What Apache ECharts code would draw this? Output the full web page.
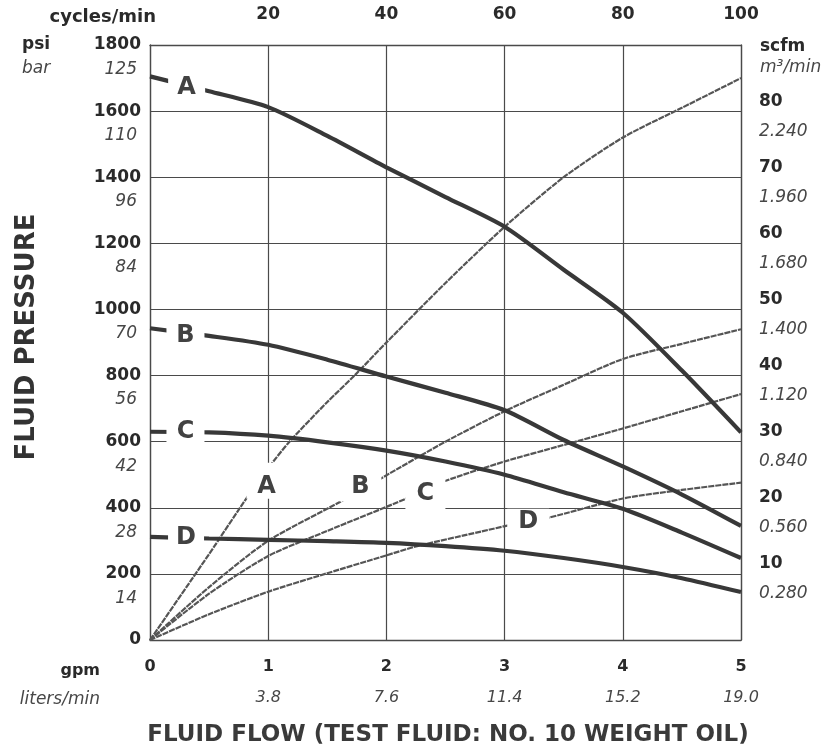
<!DOCTYPE html>
<html><head><meta charset="utf-8">
<script src="https://cdn.jsdelivr.net/npm/echarts@6/dist/echarts.min.js"></script>
<style>html,body{margin:0;padding:0;background:#fff}#c{width:832px;height:749px}</style>
</head><body><div id="c"></div>
<script>
// ---- tick labels ----
const gpmTicks = [0, 1, 2, 3, 4, 5];
const litersTicks = ['', '3.8', '7.6', '11.4', '15.2', '19.0'];
const cycleTicks = [0, 20, 40, 60, 80, 100];
const psiTicks = [0, 200, 400, 600, 800, 1000, 1200, 1400, 1600, 1800];
const barTicks = ['', '14', '28', '42', '56', '70', '84', '96', '110', '125'];
const scfmTicks = [10, 20, 30, 40, 50, 60, 70, 80];
const m3Ticks = ['0.280', '0.560', '0.840', '1.120', '1.400', '1.680', '1.960', '2.240'];

// ---- fluid pressure curves (psi vs gpm) ----
const flowGpm = [0, 0.5, 1, 1.5, 2, 2.5, 3, 3.5, 4, 4.5, 5];
const pressureA = [1705, 1660, 1612, 1525, 1430, 1340, 1250, 1120, 990, 815, 628];
const pressureB = [943, 920, 893, 848, 797, 748, 695, 605, 525, 440, 345];
const pressureC = [630, 628, 618, 598, 573, 540, 500, 447, 397, 325, 248];
const pressureD = [312, 307, 303, 299, 294, 284, 270, 248, 221, 187, 145];

// ---- air consumption curves (scfm vs gpm) ----
const airAGpm = [0, 0.5, 0.83, 1.0, 1.18, 1.5, 1.73, 2, 2.5, 3, 3.5, 4, 4.5, 5];
const airA    = [0, 13, 21.8, 26, 30, 36, 40, 45, 54, 62.5, 70, 76, 80.5, 85];
const airBGpm = [0, 0.5, 1, 1.62, 1.95, 2.5, 3, 3.5, 4, 4.5, 5];
const airB    = [0, 8, 15, 21, 24.4, 30, 34.6, 38.6, 42.5, 44.8, 47];
const airCGpm = [0, 0.5, 1, 1.5, 2.17, 2.49, 3, 3.5, 4, 4.5, 5];
const airC    = [0, 7, 12.7, 16.5, 21.4, 24, 27, 29.5, 32, 34.6, 37.2];
const airDGpm = [0, 0.5, 1, 1.5, 2, 2.24, 2.8, 3.05, 3.37, 4, 4.5, 5];
const airD    = [0, 3.9, 7.3, 10.1, 12.8, 14.1, 16.4, 17.4, 18.5, 21.4, 22.7, 23.8];

const curveNames = ['A', 'B', 'C', 'D'];

// ---- layout (label boxes that interrupt the curves, in data coords gpm/psi) ----
const LABEL_BOXES = [
  { t: 'A', at: [0.31, 1670], size: [37, 26], off: [0, 0] },
  { t: 'B', at: [0.30, 919], size: [38, 26], off: [0, 0] },
  { t: 'C', at: [0.30, 630], size: [38, 26], off: [0, 0] },
  { t: 'D', at: [0.305, 309], size: [36, 26], off: [0, 0] },
  { t: 'A', at: [0.96, 482], size: [34, 36], off: [3, 6] },
  { t: 'B', at: [1.78, 464], size: [42, 30], off: [0, 0] },
  { t: 'C', at: [2.33, 441], size: [40, 31], off: [0, 0] },
  { t: 'D', at: [3.2, 358], size: [42, 26], off: [0, 0] }
];

const FF = 'DejaVu Sans';
const DARK = '#2a2a2a';
const ITAL = '#474747';
const GRID = '#4a4a4a';

const zip = (xs, ys) => xs.map((x, i) => [x, ys[i]]);

const pressureSeries = [pressureA, pressureB, pressureC, pressureD].map((d, i) => ({
  name: 'P' + curveNames[i], type: 'line', xAxisIndex: 0, yAxisIndex: 0,
  data: zip(flowGpm, d), showSymbol: false, smooth: 0.25, z: 4,
  lineStyle: { color: '#383838', width: 4.2 }
}));
const airSeries = [[airAGpm, airA], [airBGpm, airB], [airCGpm, airC], [airDGpm, airD]].map((p, i) => ({
  name: 'Air' + curveNames[i], type: 'line', xAxisIndex: 0, yAxisIndex: 1,
  data: zip(p[0], p[1]), showSymbol: false, smooth: 0.25, z: 3,
  lineStyle: { color: '#555', width: 2.2, type: [6, 1] }
}));

const labelSeries = {
  type: 'scatter', xAxisIndex: 0, yAxisIndex: 0, z: 10, silent: true,
  symbol: 'rect',
  itemStyle: { color: '#fff', opacity: 1 },
  data: LABEL_BOXES.map(b => ({
    value: b.at, symbolSize: b.size,
    label: { show: true, position: 'inside', formatter: b.t, offset: b.off,
      fontFamily: FF, fontWeight: 'bold', fontSize: 24, color: '#424242' }
  }))
};

const chart = echarts.init(document.getElementById('c'), null, { renderer: 'canvas' });
chart.setOption({
  animation: false,
  backgroundColor: '#fff',
  grid: { left: 150, right: 91, top: 45, bottom: 109, containLabel: false, outerBoundsMode: 'none' },
  xAxis: [
    {
      type: 'value', position: 'bottom', min: 0, max: 5, interval: 1,
      axisLine: { show: true, onZero: false, lineStyle: { color: GRID, width: 1.3 } },
      axisTick: { show: false },
      splitLine: { show: true, lineStyle: { color: GRID, width: 1.2 } },
      axisLabel: {
        margin: 14, showMinLabel: true, showMaxLabel: true,
        formatter: v => {
          const i = gpmTicks.indexOf(v);
          return '{n|' + v + '}\n{l|' + (litersTicks[i] || ' ') + '}';
        },
        rich: {
          n: { fontFamily: FF, fontWeight: 'bold', fontSize: 16, color: DARK, lineHeight: 26 },
          l: { fontFamily: FF, fontStyle: 'italic', fontSize: 16, color: ITAL, lineHeight: 36 }
        }
      }
    },
    {
      type: 'value', position: 'top', min: 0, max: 100, interval: 20,
      axisLine: { show: true, onZero: false, lineStyle: { color: GRID, width: 1.3 } },
      axisTick: { show: false }, splitLine: { show: false },
      axisLabel: {
        margin: 20, showMinLabel: true, showMaxLabel: true,
        formatter: v => (v === cycleTicks[0] ? '' : String(v)),
        fontFamily: FF, fontWeight: 'bold', fontSize: 17, color: DARK, lineHeight: 20
      }
    }
  ],
  yAxis: [
    {
      type: 'value', position: 'left', min: 0, max: 1800, interval: 200,
      axisLine: { show: true, onZero: false, lineStyle: { color: GRID, width: 1.3 } },
      axisTick: { show: false },
      splitLine: { show: true, lineStyle: { color: GRID, width: 1.2 } },
      axisLabel: {
        margin: 9, showMinLabel: true, showMaxLabel: true,
        formatter: v => {
          const i = psiTicks.indexOf(v);
          if (v === 0) return '{a|0}';
          return '{s| }\n{a|' + v + '}\n{b|' + barTicks[i] + '}';
        },
        rich: {
          s: { fontSize: 10, lineHeight: 27 },
          a: { fontFamily: FF, fontWeight: 'bold', fontSize: 17, color: DARK, lineHeight: 22, align: 'right' },
          b: { fontFamily: FF, fontStyle: 'italic', fontSize: 17, color: ITAL, lineHeight: 27, align: 'right', padding: [0, 4, 0, 0] }
        }
      }
    },
    {
      type: 'value', position: 'right', min: 0, max: 90, interval: 10,
      axisLine: { show: true, onZero: false, lineStyle: { color: GRID, width: 1.3 } },
      axisTick: { show: false }, splitLine: { show: false },
      axisLabel: {
        margin: 18, showMinLabel: true, showMaxLabel: true,
        formatter: v => {
          const i = scfmTicks.indexOf(v);
          if (i < 0) return '';
          return '{a|' + v + '}\n{b|' + m3Ticks[i] + '}';
        },
        rich: {
          a: { fontFamily: FF, fontWeight: 'bold', fontSize: 17, color: DARK, lineHeight: 40, align: 'left' },
          b: { fontFamily: FF, fontStyle: 'italic', fontSize: 17, color: ITAL, lineHeight: 20, align: 'left' }
        }
      }
    }
  ],
  graphic: [
    { type: 'text', x: 156, y: 17, style: { text: 'cycles/min', fontFamily: FF, fontWeight: 'bold', fontSize: 18, fill: DARK, textAlign: 'right', textVerticalAlign: 'middle' } },
    { type: 'text', x: 22, y: 45, style: { text: 'psi', fontFamily: FF, fontWeight: 'bold', fontSize: 17, fill: DARK, textAlign: 'left', textVerticalAlign: 'middle' } },
    { type: 'text', x: 22, y: 69, style: { text: 'bar', fontFamily: FF, fontStyle: 'italic', fontSize: 17, fill: ITAL, textAlign: 'left', textVerticalAlign: 'middle' } },
    { type: 'text', x: 760, y: 47, style: { text: 'scfm', fontFamily: FF, fontWeight: 'bold', fontSize: 17, fill: DARK, textAlign: 'left', textVerticalAlign: 'middle' } },
    { type: 'text', x: 760, y: 68, style: { text: 'm³/min', fontFamily: FF, fontStyle: 'italic', fontSize: 17, fill: ITAL, textAlign: 'left', textVerticalAlign: 'middle' } },
    { type: 'text', x: 100, y: 671, style: { text: 'gpm', fontFamily: FF, fontWeight: 'bold', fontSize: 16, fill: DARK, textAlign: 'right', textVerticalAlign: 'middle' } },
    { type: 'text', x: 100, y: 700, style: { text: 'liters/min', fontFamily: FF, fontStyle: 'italic', fontSize: 17, fill: ITAL, textAlign: 'right', textVerticalAlign: 'middle' } },
    { type: 'text', x: 27, y: 337, rotation: Math.PI / 2, style: { text: 'FLUID PRESSURE', fontFamily: FF, fontWeight: 'bold', fontSize: 26, fill: '#333', textAlign: 'center', textVerticalAlign: 'middle' } },
    { type: 'text', x: 448, y: 735, style: { text: 'FLUID FLOW (TEST FLUID: NO. 10 WEIGHT OIL)', fontFamily: FF, fontWeight: 'bold', fontSize: 23, fill: '#3a3a3a', textAlign: 'center', textVerticalAlign: 'middle' } }
  ],
  series: [...airSeries, ...pressureSeries, labelSeries]
});
</script>
</body></html>
